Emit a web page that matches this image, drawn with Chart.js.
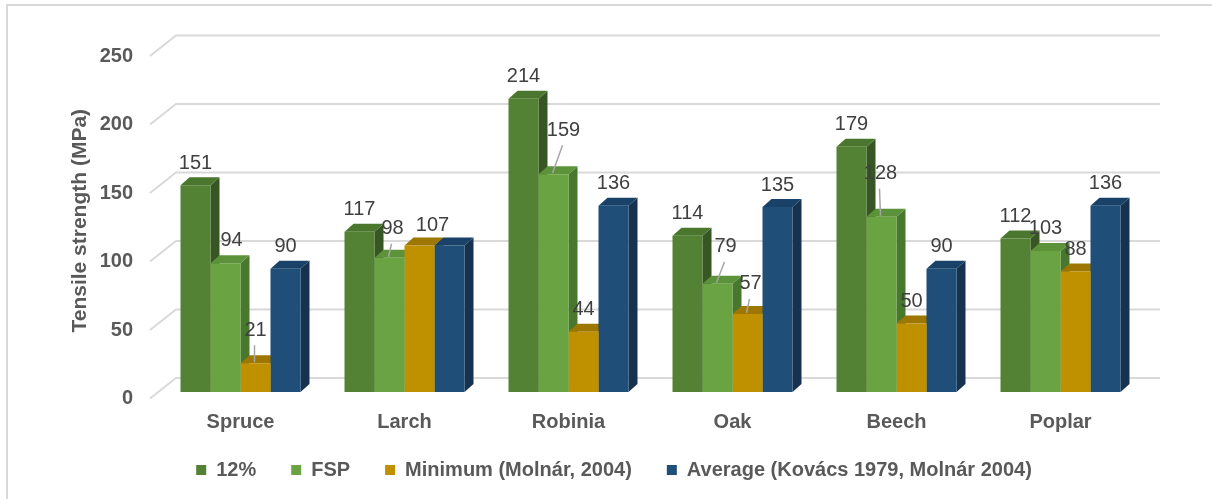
<!DOCTYPE html>
<html>
<head>
<meta charset="utf-8">
<script src="https://cdn.jsdelivr.net/npm/chart.js@4.4.1/dist/chart.umd.min.js"></script>
<style>
  html, body { margin: 0; padding: 0; background: #fff; }
  #wrap { position: relative; width: 1212px; height: 499px; overflow: hidden; }
  #frame { position: absolute; left: 6px; top: 4px; right: -4px; bottom: -4px; border: 2px solid #d9d9d9; }
  canvas { position: absolute; left: 0; top: 0; }
</style>
</head>
<body>
<div id="wrap">
  <div id="frame"></div>
  <canvas id="chart" width="1212" height="499"></canvas>
</div>
<script>
const categories = ["Spruce", "Larch", "Robinia", "Oak", "Beech", "Poplar"];
const seriesNames = ["12%", "FSP", "Minimum (Molnár, 2004)", "Average (Kovács 1979, Molnár 2004)"];
const at12 = [151, 117, 214, 114, 179, 112];
const atFsp = [94, 98, 159, 79, 128, 103];
const minimumMolnar = [21, 107, 44, 57, 50, 88];
const averageKovacsMolnar = [90, 107, 136, 135, 90, 136];
const yTicks = [0, 50, 100, 150, 200, 250];

const frontColors = ["#548235", "#6aa342", "#bf9000", "#1f4e79"];
const topColors = ["#4a772d", "#5c923a", "#9e7700", "#1a4268"];
const sideColors = ["#375623", "#48772e", "#8a6800", "#16324f"];

const font = "'Liberation Sans', Arial, sans-serif";
const textGrey = "#595959";

// 3d look: bar depth and back-wall shift for the gridlines
const depthX = 9, depthY = -8;
const wallX = 17.5, wallY = -14;

// data label placement (Excel moved a few of them and added leader lines)
const labelShift = {
  "1-0": [6, -23],
  "2-0": [0, -33],
  "1-1": [3, -29],
  "2-1": [13, -20],
  "1-2": [10, -44],
  "1-3": [8, -37],
  "2-3": [3, -30],
  "1-4": [-1, -43]
};
const leaderLines = ["2-0", "1-1", "1-2", "1-3", "2-3", "1-4"];
const hiddenLabels = ["3-1"];

const bar3d = {
  id: "bar3d",
  beforeDatasetsDraw(chart) {
    const { ctx, chartArea, scales } = chart;
    ctx.save();
    ctx.strokeStyle = "#d9d9d9";
    ctx.lineWidth = 2;
    yTicks.forEach(v => {
      const yf = scales.y.getPixelForValue(v);
      ctx.beginPath();
      ctx.moveTo(chartArea.left - 8.5, yf + 6.5);
      ctx.lineTo(chartArea.left + wallX, yf + wallY);
      ctx.lineTo(chartArea.right + wallX, yf + wallY);
      ctx.stroke();
    });

    // sides and tops, left to right, fronts are drawn by chart.js afterwards
    categories.forEach((c, i) => {
      chart.data.datasets.forEach((ds, d) => {
        const bar = chart.getDatasetMeta(d).data[i];
        const l = bar.x - bar.width / 2;
        const r = bar.x + bar.width / 2;
        ctx.fillStyle = sideColors[d];
        ctx.beginPath();
        ctx.moveTo(r, bar.y);
        ctx.lineTo(r + depthX, bar.y + depthY);
        ctx.lineTo(r + depthX, bar.base + depthY);
        ctx.lineTo(r, bar.base);
        ctx.closePath();
        ctx.fill();
        ctx.fillStyle = topColors[d];
        ctx.beginPath();
        ctx.moveTo(l, bar.y);
        ctx.lineTo(l + depthX, bar.y + depthY);
        ctx.lineTo(r + depthX, bar.y + depthY);
        ctx.lineTo(r, bar.y);
        ctx.closePath();
        ctx.fill();
      });
    });
    ctx.restore();
  },
  afterDatasetsDraw(chart) {
    const { ctx } = chart;
    ctx.save();
    ctx.font = "20px " + font;
    ctx.fillStyle = "#404040";
    ctx.textAlign = "center";
    ctx.textBaseline = "middle";
    ctx.strokeStyle = "#a6a6a6";
    ctx.lineWidth = 1.5;
    chart.data.datasets.forEach((ds, d) => {
      chart.getDatasetMeta(d).data.forEach((bar, i) => {
        const key = d + "-" + i;
        if (hiddenLabels.includes(key)) return;
        const off = labelShift[key] || [0, -22];
        const lx = bar.x + off[0];
        const ly = bar.y + off[1];
        if (leaderLines.includes(key)) {
          ctx.beginPath();
          ctx.moveTo(lx - 1, ly + 15);
          ctx.lineTo(bar.x - 1, bar.y - 1);
          ctx.stroke();
        }
        ctx.fillText(ds.data[i], lx, ly);
      });
    });
    ctx.restore();
  }
};

const seriesData = [at12, atFsp, minimumMolnar, averageKovacsMolnar];

new Chart(document.getElementById("chart"), {
  type: "bar",
  data: {
    labels: categories,
    datasets: seriesData.map((vals, d) => ({
      label: seriesNames[d],
      data: vals,
      backgroundColor: frontColors[d],
      borderWidth: 0,
      categoryPercentage: 0.7317,
      barPercentage: 1
    }))
  },
  options: {
    responsive: false,
    animation: false,
    layout: { padding: { top: 49.5, left: 85.5, right: 69.5, bottom: 9 } },
    plugins: {
      legend: {
        position: "bottom",
        // empty title with negative padding pulls the row up, the
        // 35px label padding is only wanted between the items
        title: { display: true, text: "", font: { size: 10 }, padding: { top: -29, bottom: 0 } },
        labels: {
          boxWidth: 10,
          boxHeight: 10,
          padding: 35,
          color: textGrey,
          font: { family: font, size: 20, weight: "bold" }
        }
      },
      tooltip: { enabled: false }
    },
    scales: {
      x: {
        grid: { display: false, drawTicks: false },
        border: { display: false },
        ticks: { padding: 18, color: textGrey, font: { family: font, size: 20, weight: "bold" } },
        afterFit: s => { s.height = 50; }
      },
      y: {
        min: 0,
        max: 250,
        afterBuildTicks: s => { s.ticks = yTicks.map(v => ({ value: v })); },
        grid: { display: false, drawTicks: false },
        border: { display: false },
        ticks: { padding: 25.5, labelOffset: 6.5, color: textGrey, font: { family: font, size: 20, weight: "bold" } },
        title: {
          display: true,
          text: "Tensile strength (MPa)",
          color: textGrey,
          padding: { top: -18, bottom: 0 },
          font: { family: font, size: 21, weight: "bold" }
        },
        afterFit: s => { s.width = 73; }
      }
    }
  },
  plugins: [bar3d]
});
</script>
</body>
</html>
